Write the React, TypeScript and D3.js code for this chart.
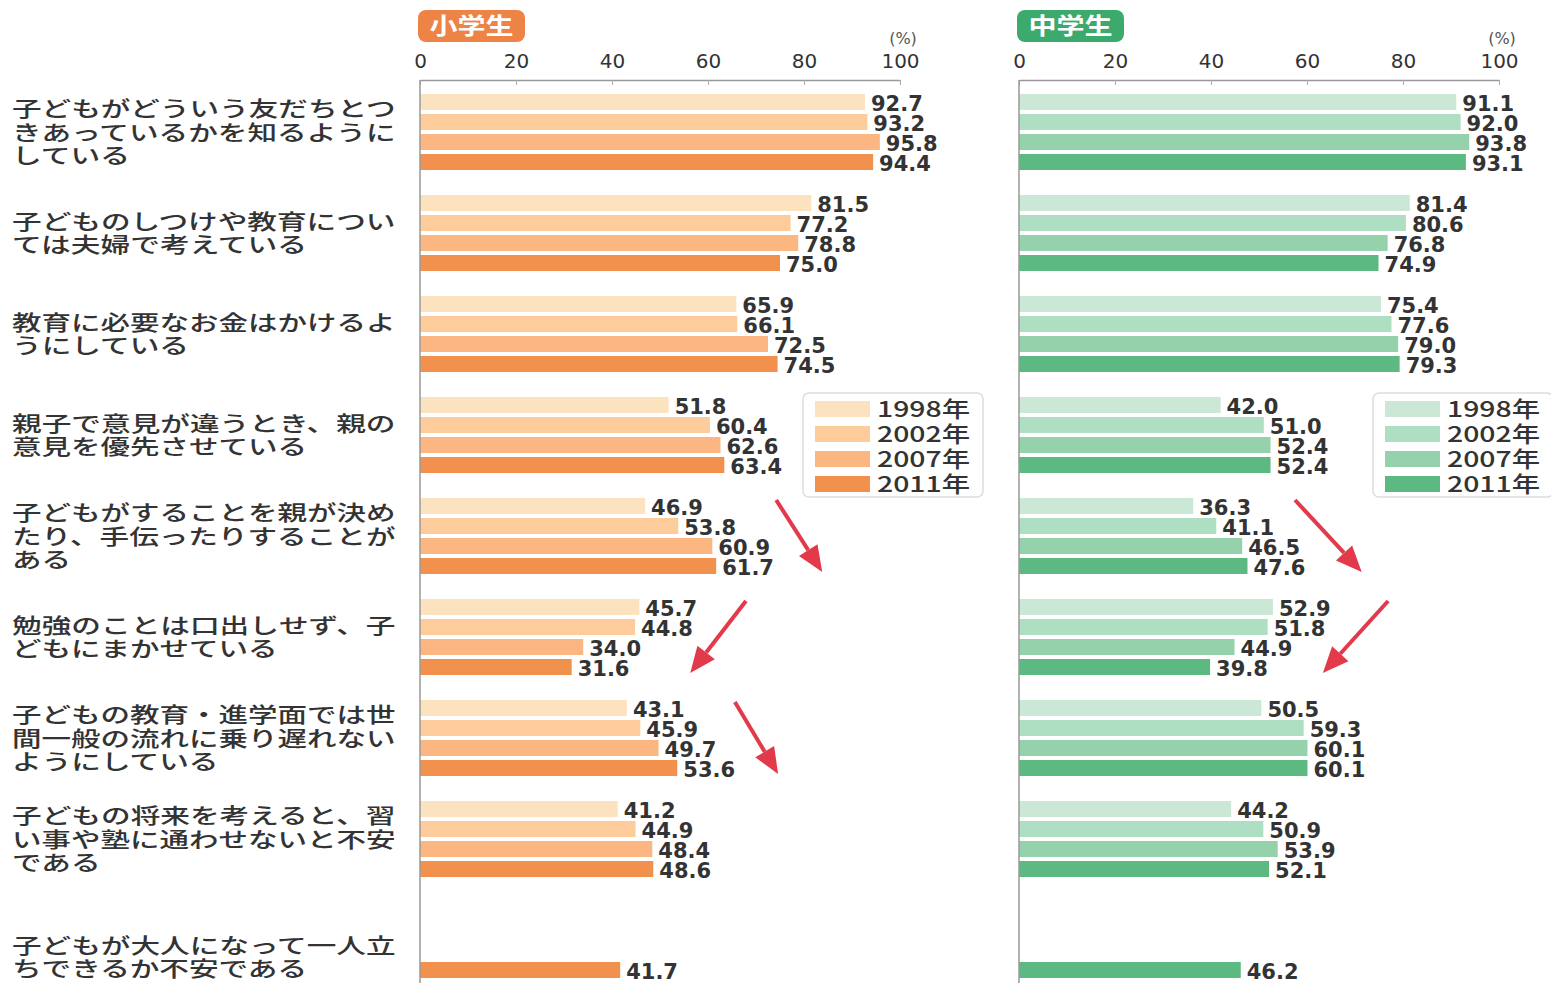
import React, { useEffect, useRef } from 'react';
import * as d3 from 'd3';

// categories (label lines as broken in the original)
const categories: string[][] = [
  ['子どもがどういう友だちとつ', 'きあっているかを知るように', 'している'],
  ['子どものしつけや教育につい', 'ては夫婦で考えている'],
  ['教育に必要なお金はかけるよ', 'うにしている'],
  ['親子で意見が違うとき、親の', '意見を優先させている'],
  ['子どもがすることを親が決め', 'たり、手伝ったりすることが', 'ある'],
  ['勉強のことは口出しせず、子', 'どもにまかせている'],
  ['子どもの教育・進学面では世', '間一般の流れに乗り遅れない', 'ようにしている'],
  ['子どもの将来を考えると、習', 'い事や塾に通わせないと不安', 'である'],
  ['子どもが大人になって一人立', 'ちできるか不安である'],
];

const years = ['1998年', '2002年', '2007年', '2011年'];

// values per category: 1998, 2002, 2007, 2011
const elementary: (number | null)[][] = [
  [92.7, 93.2, 95.8, 94.4],
  [81.5, 77.2, 78.8, 75.0],
  [65.9, 66.1, 72.5, 74.5],
  [51.8, 60.4, 62.6, 63.4],
  [46.9, 53.8, 60.9, 61.7],
  [45.7, 44.8, 34.0, 31.6],
  [43.1, 45.9, 49.7, 53.6],
  [41.2, 44.9, 48.4, 48.6],
  [null, null, null, 41.7],
];

const juniorHigh: (number | null)[][] = [
  [91.1, 92.0, 93.8, 93.1],
  [81.4, 80.6, 76.8, 74.9],
  [75.4, 77.6, 79.0, 79.3],
  [42.0, 51.0, 52.4, 52.4],
  [36.3, 41.1, 46.5, 47.6],
  [52.9, 51.8, 44.9, 39.8],
  [50.5, 59.3, 60.1, 60.1],
  [44.2, 50.9, 53.9, 52.1],
  [null, null, null, 46.2],
];

const tickValues = [0, 20, 40, 60, 80, 100];

const orangeColors = ['#fde2bf', '#fdcc9a', '#fbb682', '#f2904e'];
const greenColors = ['#cbe8d6', '#aedfc2', '#95d1aa', '#5cb981'];

// trend arrows: category index, start and end in percent
const elementaryArrows = [
  { group: 4, x0: 74.2, x1: 83.8 },
  { group: 5, x0: 67.9, x1: 56.3 },
  { group: 6, x0: 65.6, x1: 74.6 },
];
const juniorArrows = [
  { group: 4, x0: 57.5, x1: 71.4 },
  { group: 5, x0: 76.9, x1: 63.3 },
];

const W = 1551;
const H = 983;
const TEXT = '#333';
const JP = '"Noto Sans CJK JP", "Noto Sans", sans-serif';
const NUM = '"DejaVu Sans", sans-serif';

export default function App() {
  const svgRef = useRef<SVGSVGElement>(null);

  useEffect(() => {
    if (!svgRef.current) return;
    const svg = d3.select(svgRef.current);
    svg.selectAll('*').remove();

    const axisY = 80;

    const yGroup = d3
      .scaleBand<number>()
      .domain(categories.map((_, i) => i))
      .range([92, 92 + 101 * categories.length]);

    const yBar = d3
      .scaleBand<string>()
      .domain(years)
      .range([0, 80])
      .paddingInner(0.2)
      .paddingOuter(0.1);

    // category labels
    const labels = svg.append('g');
    categories.forEach((lines, i) => {
      const vals = elementary[i];
      const present = years.filter((_, j) => vals[j] !== null);
      const centers = present.map(yr => (yGroup(i) || 0) + (yBar(yr) || 0) + yBar.bandwidth() / 2);
      let c = d3.mean(centers) || 0;
      if (present.length === 1) c -= 13;
      const lh = 23.5;
      lines.forEach((line, k) => {
        labels
          .append('text')
          .attr('x', 12)
          .attr('y', c + (k - (lines.length - 1) / 2) * lh)
          .attr('dy', '0.36em')
          .attr('font-family', JP)
          .attr('font-size', 21)
          .attr('font-weight', 500)
          .attr('fill', TEXT)
          .attr('textLength', line.length * 29.5)
          .attr('lengthAdjust', 'spacingAndGlyphs')
          .text(line);
      });
    });

    const drawPanel = (
      left: number,
      data: (number | null)[][],
      colors: string[],
      badge: string,
      badgeColor: string,
      legendX: number,
      arrows: { group: number; x0: number; x1: number }[],
    ) => {
      const x = d3.scaleLinear().domain([0, 100]).range([left, left + 480]);
      const g = svg.append('g');

      // badge
      g.append('rect')
        .attr('x', left - 2)
        .attr('y', 10)
        .attr('width', 107)
        .attr('height', 32)
        .attr('rx', 8)
        .attr('fill', badgeColor);
      g.append('text')
        .attr('x', left - 2 + 53.5)
        .attr('y', 26)
        .attr('dy', '0.36em')
        .attr('text-anchor', 'middle')
        .attr('font-family', JP)
        .attr('font-size', 23)
        .attr('font-weight', 700)
        .attr('fill', '#fff')
        .attr('textLength', 84)
        .attr('lengthAdjust', 'spacingAndGlyphs')
        .text(badge);

      // (%) unit
      g.append('text')
        .attr('x', x(100) + 3)
        .attr('y', 38)
        .attr('dy', '0.36em')
        .attr('text-anchor', 'middle')
        .attr('font-family', NUM)
        .attr('font-size', 16)
        .attr('fill', '#555')
        .text('(%)');

      // bars
      data.forEach((vals, i) => {
        vals.forEach((v, j) => {
          if (v === null) return;
          const yy = (yGroup(i) || 0) + (yBar(years[j]) || 0);
          g.append('rect')
            .attr('x', x(0))
            .attr('y', yy)
            .attr('width', x(v) - x(0))
            .attr('height', yBar.bandwidth())
            .attr('fill', colors[j]);
        });
      });

      // value labels
      data.forEach((vals, i) => {
        vals.forEach((v, j) => {
          if (v === null) return;
          const yy = (yGroup(i) || 0) + (yBar(years[j]) || 0) + yBar.bandwidth() / 2;
          g.append('text')
            .attr('x', x(v) + 6)
            .attr('y', yy + 1)
            .attr('dy', '0.36em')
            .attr('font-family', NUM)
            .attr('font-size', 21)
            .attr('font-weight', 700)
            .attr('fill', TEXT)
            .text(v.toFixed(1));
        });
      });

      // axis
      const axis = g
        .append('g')
        .attr('transform', `translate(0,${axisY})`)
        .call(
          d3
            .axisTop(x)
            .tickValues(tickValues)
            .tickSizeInner(-5)
            .tickSizeOuter(0)
            .tickPadding(12),
        );
      axis.select('.domain').attr('stroke', '#999').attr('stroke-width', 1.5);
      axis.selectAll('.tick line').attr('stroke', '#aaa');
      axis
        .selectAll('.tick text')
        .attr('font-family', NUM)
        .attr('font-size', 20)
        .attr('fill', TEXT);

      // vertical baseline
      g.append('line')
        .attr('x1', x(0))
        .attr('x2', x(0))
        .attr('y1', axisY)
        .attr('y2', H)
        .attr('stroke', '#999')
        .attr('stroke-width', 1.5);

      // legend
      const lg = g.append('g').attr('transform', `translate(${legendX},393)`);
      lg.append('rect')
        .attr('x', 0)
        .attr('y', 0)
        .attr('width', 180)
        .attr('height', 104)
        .attr('rx', 6)
        .attr('fill', '#fff')
        .attr('stroke', '#ddd')
        .attr('stroke-width', 1.5);
      years.forEach((yr, j) => {
        const cy = 16 + j * 25;
        lg.append('rect')
          .attr('x', 12)
          .attr('y', cy - 8)
          .attr('width', 55)
          .attr('height', 16)
          .attr('fill', colors[j]);
        lg.append('text')
          .attr('x', 74)
          .attr('y', cy)
          .attr('dy', '0.36em')
          .attr('font-family', JP)
          .attr('font-size', 22)
          .attr('font-weight', 500)
          .attr('fill', TEXT)
          .attr('textLength', 93)
          .attr('lengthAdjust', 'spacingAndGlyphs')
          .text(yr);
      });

      // arrows
      arrows.forEach(a => {
        const top = yGroup(a.group) || 0;
        const x0 = x(a.x0);
        const x1 = x(a.x1);
        const y0 = top + 4;
        const y1 = top + 76;
        const ang = Math.atan2(y1 - y0, x1 - x0);
        const headLen = 26;
        const headW = 11;
        const bx = x1 - headLen * Math.cos(ang);
        const by = y1 - headLen * Math.sin(ang);
        g.append('line')
          .attr('x1', x0)
          .attr('y1', y0)
          .attr('x2', bx)
          .attr('y2', by)
          .attr('stroke', '#e23a4b')
          .attr('stroke-width', 4);
        const px = -Math.sin(ang) * headW;
        const py = Math.cos(ang) * headW;
        g.append('path')
          .attr('d', `M${x1},${y1}L${bx + px},${by + py}L${bx - px},${by - py}Z`)
          .attr('fill', '#e23a4b');
      });
    };

    drawPanel(420, elementary, orangeColors, '小学生', '#ee8346', 803, elementaryArrows);
    drawPanel(1019, juniorHigh, greenColors, '中学生', '#3daa6d', 1373, juniorArrows);
  }, []);

  return (
    <div style={{ position: 'absolute', left: 0, top: 0 }}>
      <svg ref={svgRef} width={W} height={H} style={{ display: 'block', background: '#fff' }}></svg>
    </div>
  );
}
